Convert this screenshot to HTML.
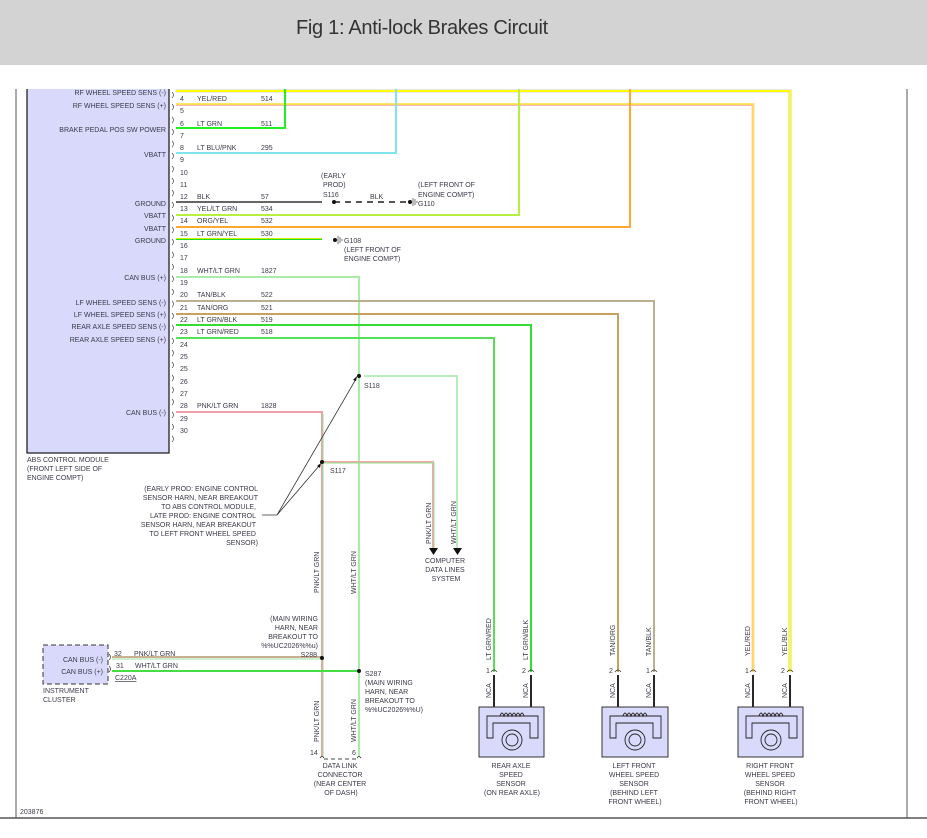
<!DOCTYPE html>
<html><head><meta charset="utf-8"><style>
body{margin:0;background:#fff;width:927px;height:838px;overflow:hidden;font-family:"Liberation Sans",sans-serif}
.hdr{position:absolute;left:0;top:0;width:927px;height:65px;background:#d3d3d3}
.hdr div{position:absolute;left:296px;top:17px;font-size:20px;color:#333;letter-spacing:-0.3px}
svg{position:absolute;left:0;top:0}
text{font-family:"Liberation Sans",sans-serif;font-size:7px;fill:#3a3a4a}
.r{text-anchor:end}.m{text-anchor:middle}
</style></head><body>
<div class="hdr"><div>Fig 1: Anti-lock Brakes Circuit</div></div>
<svg width="927" height="838" viewBox="0 0 927 838">
<line x1="16" y1="89" x2="16" y2="818" stroke="#555" stroke-width="1"/>
<line x1="907" y1="89" x2="907" y2="818" stroke="#555" stroke-width="1"/>
<line x1="0" y1="818" x2="927" y2="818" stroke="#555" stroke-width="1.5"/>
<rect x="27" y="89" width="142" height="364" fill="#d9d9fb"/>
<path d="M27 89V453H169V89" fill="none" stroke="#222" stroke-width="1.3"/>
<g fill="none" stroke="#333" stroke-width="0.6">
<path d="M172 92q3 3 0 6M172 104q3 3 0 6M172 117q3 3 0 6M172 129q3 3 0 6M172 141q3 3 0 6M172 153q3 3 0 6M172 166q3 3 0 6M172 178q3 3 0 6M172 190q3 3 0 6M172 202q3 3 0 6M172 215q3 3 0 6M172 227q3 3 0 6M172 239q3 3 0 6M172 252q3 3 0 6M172 264q3 3 0 6M172 276q3 3 0 6M172 289q3 3 0 6M172 301q3 3 0 6M172 313q3 3 0 6M172 325q3 3 0 6M172 338q3 3 0 6M172 350q3 3 0 6M172 362q3 3 0 6M172 375q3 3 0 6M172 387q3 3 0 6M172 399q3 3 0 6M172 412q3 3 0 6M172 424q3 3 0 6M172 436q3 3 0 6"/>
</g>
<g class="r">
<text x="166" y="95" class="r">RF WHEEL SPEED SENS (-)</text>
<text x="166" y="108" class="r">RF WHEEL SPEED SENS (+)</text>
<text x="166" y="132" class="r">BRAKE PEDAL POS SW POWER</text>
<text x="166" y="157" class="r">VBATT</text>
<text x="166" y="206" class="r">GROUND</text>
<text x="166" y="218" class="r">VBATT</text>
<text x="166" y="231" class="r">VBATT</text>
<text x="166" y="243" class="r">GROUND</text>
<text x="166" y="280" class="r">CAN BUS (+)</text>
<text x="166" y="305" class="r">LF WHEEL SPEED SENS (-)</text>
<text x="166" y="317" class="r">LF WHEEL SPEED SENS (+)</text>
<text x="166" y="329" class="r">REAR AXLE SPEED SENS (-)</text>
<text x="166" y="342" class="r">REAR AXLE SPEED SENS (+)</text>
<text x="166" y="415" class="r">CAN BUS (-)</text>
</g>
<text x="27" y="462">ABS CONTROL MODULE</text>
<text x="27" y="471">(FRONT LEFT SIDE OF</text>
<text x="27" y="480">ENGINE COMPT)</text>
<g>
<text x="180" y="101">4</text><text x="180" y="113">5</text><text x="180" y="126">6</text><text x="180" y="138">7</text><text x="180" y="150">8</text><text x="180" y="162">9</text><text x="180" y="175">10</text><text x="180" y="187">11</text><text x="180" y="199">12</text><text x="180" y="211">13</text><text x="180" y="223">14</text><text x="180" y="236">15</text><text x="180" y="248">16</text><text x="180" y="260">17</text><text x="180" y="273">18</text><text x="180" y="285">19</text><text x="180" y="297">20</text><text x="180" y="310">21</text><text x="180" y="322">22</text><text x="180" y="334">23</text><text x="180" y="347">24</text><text x="180" y="359">25</text><text x="180" y="371">25</text><text x="180" y="384">26</text><text x="180" y="396">27</text><text x="180" y="408">28</text><text x="180" y="421">29</text><text x="180" y="433">30</text>
</g>
<g>
<text x="197" y="101">YEL/RED</text><text x="261" y="101">514</text>
<text x="197" y="126">LT GRN</text><text x="261" y="126">511</text>
<text x="197" y="150">LT BLU/PNK</text><text x="261" y="150">295</text>
<text x="197" y="199">BLK</text><text x="261" y="199">57</text>
<text x="197" y="211">YEL/LT GRN</text><text x="261" y="211">534</text>
<text x="197" y="223">ORG/YEL</text><text x="261" y="223">532</text>
<text x="197" y="236">LT GRN/YEL</text><text x="261" y="236">530</text>
<text x="197" y="273">WHT/LT GRN</text><text x="261" y="273">1827</text>
<text x="197" y="297">TAN/BLK</text><text x="261" y="297">522</text>
<text x="197" y="310">TAN/ORG</text><text x="261" y="310">521</text>
<text x="197" y="322">LT GRN/BLK</text><text x="261" y="322">519</text>
<text x="197" y="334">LT GRN/RED</text><text x="261" y="334">518</text>
<text x="197" y="408">PNK/LT GRN</text><text x="261" y="408">1828</text>
</g>
<g fill="none" stroke-width="2">
<path d="M176 91H790V672" stroke="#999" stroke-width="2.5"/>
<path d="M176 91H790V672" stroke="#ffff00"/>
<path d="M176 104.5H753V672" stroke="#f4a0a0" stroke-width="2.5"/>
<path d="M176 104H753V672" stroke="#ffee40" stroke-width="1.5"/>
<path d="M176 128H285V89" stroke="#22ee22"/>
<path d="M176 153H396V89" stroke="#80e4ee"/>
<path d="M176 202H322" stroke="#666"/>
<path d="M334 202H410" stroke="#555" stroke-dasharray="6,5"/>
<path d="M176 215H519V89" stroke="#b8f040"/>
<path d="M176 227H630V89" stroke="#ffa830"/>
<path d="M176 239H322" stroke="#ccee00"/>
<path d="M176 239.5H322" stroke="#22dd22" stroke-width="1"/>
<path d="M176 277H359V757" stroke="#a8eca8"/>
<path d="M176 301H654V672" stroke="#bcae90"/>
<path d="M176 314H618V672" stroke="#c8a060"/>
<path d="M176 325H531V672" stroke="#33dd33"/>
<path d="M176 338H494V672" stroke="#55e055"/>
<path d="M176 412H322V757" stroke="#f0a0a8"/>
<path d="M323 414V757" stroke="#8de08d" stroke-width="1"/>
<path d="M364 376H457V548" stroke="#b8ecb8"/>
<path d="M322 462H433V548" stroke="#f0a8a8"/>
<path d="M323 463H434V548" stroke="#8ee08e" stroke-width="1"/>
<path d="M112 657H322" stroke="#c8b090"/>
<path d="M112 659H322" stroke="#9ee09e" stroke-width="1"/>
<path d="M112 671H359" stroke="#44dd44"/>
</g>
<g fill="#111">
<circle cx="334" cy="202" r="2"/><circle cx="410" cy="202" r="2"/><circle cx="335" cy="240" r="2"/>
<circle cx="359" cy="376" r="2"/><circle cx="322" cy="462" r="2"/><circle cx="322" cy="658" r="2"/><circle cx="359" cy="671" r="2"/>
</g>
<g stroke="#777" stroke-width="1"><path d="M413 198v8M415 199v6M417 201v2M338 236v8M340 237v6M342 239v2"/></g>
<text x="321" y="178">(EARLY</text><text x="323" y="187">PROD)</text><text x="323" y="197">S116</text>
<text x="370" y="199">BLK</text>
<text x="418" y="187">(LEFT FRONT OF</text><text x="418" y="197">ENGINE COMPT)</text><text x="418" y="206">G110</text>
<text x="344" y="243">G108</text><text x="344" y="252">(LEFT FRONT OF</text><text x="344" y="261">ENGINE COMPT)</text>
<text x="364" y="388">S118</text><text x="330" y="473">S117</text>
<g stroke="#333" stroke-width="0.8" fill="none"><path d="M262 515H277L356 379M277 515L319 466"/></g>
<path d="M357 376l-4 4 3 1z M321 463l-4 3 3 2z" fill="#111"/>
<g class="r">
<text x="258" y="491" class="r">(EARLY PROD: ENGINE CONTROL</text>
<text x="258" y="500" class="r">SENSOR HARN, NEAR BREAKOUT</text>
<text x="256" y="509" class="r">TO ABS CONTROL MODULE,</text>
<text x="256" y="518" class="r">LATE PROD: ENGINE CONTROL</text>
<text x="256" y="527" class="r">SENSOR HARN, NEAR BREAKOUT</text>
<text x="256" y="536" class="r">TO LEFT FRONT WHEEL SPEED</text>
<text x="258" y="545" class="r">SENSOR)</text>
</g>
<path d="M429 548h9l-4.5 7z M453 548h9l-4.5 7z" fill="#111"/>
<text transform="translate(431,544) rotate(-90)">PNK/LT GRN</text>
<text transform="translate(456,544) rotate(-90)">WHT/LT GRN</text>
<text x="445" y="563" class="m">COMPUTER</text><text x="445" y="572" class="m">DATA LINES</text><text x="446" y="581" class="m">SYSTEM</text>
<text transform="translate(319,593) rotate(-90)">PNK/LT GRN</text>
<text transform="translate(356,594) rotate(-90)">WHT/LT GRN</text>
<text x="318" y="621" class="r">(MAIN WIRING</text><text x="318" y="630" class="r">HARN, NEAR</text><text x="318" y="639" class="r">BREAKOUT TO</text><text x="318" y="648" class="r">%%UC2026%%u)</text>
<text x="317" y="657" class="r">S288</text>
<text x="365" y="676">S287</text><text x="365" y="685">(MAIN WIRING</text><text x="365" y="694">HARN, NEAR</text><text x="365" y="703">BREAKOUT TO</text><text x="365" y="712">%%UC2026%%U)</text>
<text transform="translate(319,742) rotate(-90)">PNK/LT GRN</text>
<text transform="translate(356,742) rotate(-90)">WHT/LT GRN</text>
<text x="310" y="755">14</text><text x="352" y="755">6</text>
<path d="M320 758q2-3 4 0M357 758q2-3 4 0" stroke="#333" fill="none" stroke-width="0.8"/>
<line x1="324" y1="759" x2="357" y2="759" stroke="#444" stroke-dasharray="4,3"/>
<text x="340" y="768" class="m">DATA LINK</text><text x="340" y="777" class="m">CONNECTOR</text><text x="340" y="786" class="m">(NEAR CENTER</text><text x="341" y="795" class="m">OF DASH)</text>
<rect x="43" y="645" width="65" height="39" fill="#d9d9fb" stroke="#333" stroke-dasharray="5,3"/>
<text x="103" y="662" class="r">CAN BUS (-)</text><text x="103" y="674" class="r">CAN BUS (+)</text>
<path d="M109 654q3 3 0 6M109 666q3 3 0 6" stroke="#333" fill="none" stroke-width="0.7"/>
<text x="114" y="656">32</text><text x="116" y="668">31</text>
<text x="134" y="656">PNK/LT GRN</text><text x="135" y="668">WHT/LT GRN</text>
<text x="115" y="680" text-decoration="underline">C220A</text>
<text x="43" y="693">INSTRUMENT</text><text x="43" y="702">CLUSTER</text>
<text x="20" y="814">203876</text>
<g fill="none" stroke="#111" stroke-width="1.8">
<path d="M494 675V710M531 675V710M618 675V710M654 675V710M753 675V710M790 675V710"/>
</g>
<g fill="none" stroke="#333" stroke-width="0.7">
<path d="M491 672q3-4 6 0M528 672q3-4 6 0M615 672q3-4 6 0M651 672q3-4 6 0M750 672q3-4 6 0M787 672q3-4 6 0"/>
</g>
<g fill="#d9d9fb" stroke="#333" stroke-width="1">
<rect x="479" y="707" width="65" height="50"/><rect x="602" y="707" width="66" height="50"/><rect x="738" y="707" width="65" height="50"/>
</g>
<g fill="none" stroke="#222" stroke-width="0.9">
<path d="M487 738V716H538V738H530V723H493V738Z"/>
<path d="M610 738V716H661V738H653V723H616V738Z"/>
<path d="M746 738V716H797V738H789V723H752V738Z"/>
<path d="M500 716q2-6 4 0q2-6 4 0q2-6 4 0q2-6 4 0q2-6 4 0q2-6 4 0M623 716q2-6 4 0q2-6 4 0q2-6 4 0q2-6 4 0q2-6 4 0q2-6 4 0M759 716q2-6 4 0q2-6 4 0q2-6 4 0q2-6 4 0q2-6 4 0q2-6 4 0"/>
<circle cx="512" cy="740" r="10"/><circle cx="512" cy="740" r="6"/>
<circle cx="635" cy="740" r="10"/><circle cx="635" cy="740" r="6"/>
<circle cx="771" cy="740" r="10"/><circle cx="771" cy="740" r="6"/>
</g>
<g>
<text transform="translate(491,660) rotate(-90)">LT GRN/RED</text>
<text transform="translate(528,660) rotate(-90)">LT GRN/BLK</text>
<text transform="translate(615,656) rotate(-90)">TAN/ORG</text>
<text transform="translate(651,656) rotate(-90)">TAN/BLK</text>
<text transform="translate(750,656) rotate(-90)">YEL/RED</text>
<text transform="translate(787,656) rotate(-90)">YEL/BLK</text>
<text transform="translate(491,698) rotate(-90)">NCA</text><text transform="translate(528,698) rotate(-90)">NCA</text>
<text transform="translate(615,698) rotate(-90)">NCA</text><text transform="translate(651,698) rotate(-90)">NCA</text>
<text transform="translate(750,698) rotate(-90)">NCA</text><text transform="translate(787,698) rotate(-90)">NCA</text>
<text x="486" y="673">1</text><text x="522" y="673">2</text><text x="609" y="673">2</text><text x="646" y="673">1</text><text x="745" y="673">1</text><text x="781" y="673">2</text>
</g>
<text x="511" y="768" class="m">REAR AXLE</text><text x="511" y="777" class="m">SPEED</text><text x="511" y="786" class="m">SENSOR</text><text x="512" y="795" class="m">(ON REAR AXLE)</text>
<text x="634" y="768" class="m">LEFT FRONT</text><text x="634" y="777" class="m">WHEEL SPEED</text><text x="634" y="786" class="m">SENSOR</text><text x="634" y="795" class="m">(BEHIND LEFT</text><text x="635" y="804" class="m">FRONT WHEEL)</text>
<text x="770" y="768" class="m">RIGHT FRONT</text><text x="770" y="777" class="m">WHEEL SPEED</text><text x="770" y="786" class="m">SENSOR</text><text x="770" y="795" class="m">(BEHIND RIGHT</text><text x="771" y="804" class="m">FRONT WHEEL)</text>
</svg>
</body></html>
